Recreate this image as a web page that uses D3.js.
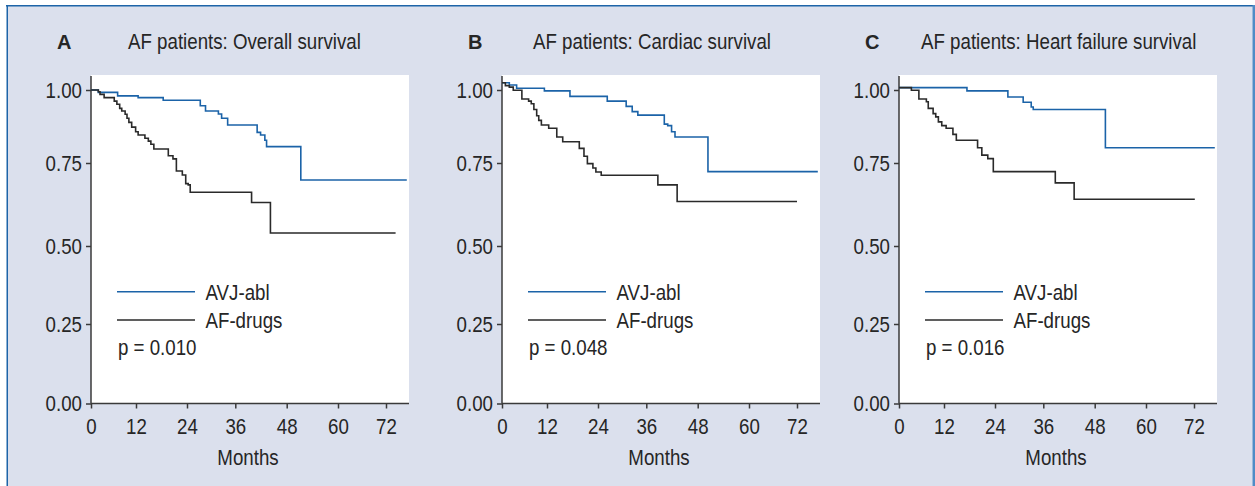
<!DOCTYPE html>
<html>
<head>
<meta charset="utf-8">
<script src="https://cdn.jsdelivr.net/npm/d3@7"></script>
<style>
    body { margin: 0; background: #fff; }
    text { font-family: "Liberation Sans", Arial, sans-serif; fill: #262626; }
</style>
</head>
<body>
<svg id="chart" width="1255" height="486"></svg>
<script>
const month_ticks = [0, 12, 24, 36, 48, 60, 72]
const surv_ticks = [0, 0.25, 0.5, 0.75, 1]
const panel_letters = ["A", "B", "C"]
const panel_titles = ["AF patients: Overall survival", "AF patients: Cardiac survival", "AF patients: Heart failure survival"]
const p_values = ["p = 0.010", "p = 0.048", "p = 0.016"]
const legend_labels = ["AVJ-abl", "AF-drugs"]

// step times (months) and survival from that time on
const a_abl_t = [0, 1.95, 7.1, 12.5, 18.4, 27.3, 28.6, 31.8, 32.6, 34.1, 41.1, 41.9, 42.9, 43.3, 51.3, 77.2]
const a_abl_s = [1.0, 0.992, 0.980, 0.974, 0.965, 0.946, 0.928, 0.918, 0.903, 0.880, 0.855, 0.846, 0.828, 0.806, 0.699, 0.699]
const a_drug_t = [0, 1.95, 2.4, 3.5, 6.2, 6.9, 7.65, 8.2, 9.1, 9.6, 10.1, 10.85, 11.9, 12.5, 14.1, 14.9, 15.5, 16.2, 19.6, 20.7, 21.5, 22.9, 23.7, 24.3, 24.8, 39.8, 44.2, 74.4]
const a_drug_s = [1.0, 0.994, 0.985, 0.974, 0.962, 0.951, 0.937, 0.928, 0.917, 0.903, 0.889, 0.873, 0.857, 0.846, 0.835, 0.825, 0.814, 0.798, 0.775, 0.764, 0.726, 0.714, 0.688, 0.684, 0.662, 0.631, 0.539, 0.539]

const b_abl_t = [0, 1.95, 3.9, 11.3, 17.4, 26.3, 31.0, 32.5, 33.9, 40.2, 41.0, 41.9, 42.7, 50.4, 77.2]
const b_abl_s = [1.025, 1.017, 1.006, 0.997, 0.978, 0.962, 0.944, 0.926, 0.914, 0.883, 0.878, 0.857, 0.839, 0.724, 0.724]
const b_drug_t = [0, 0.9, 1.95, 3.0, 5.3, 7.1, 7.8, 8.5, 9.25, 9.8, 10.5, 12.4, 14.3, 15.7, 19.6, 20.7, 21.5, 22.8, 23.5, 24.8, 38.7, 43.2, 72.0]
const b_drug_s = [1.025, 1.015, 1.010, 0.999, 0.969, 0.962, 0.953, 0.933, 0.912, 0.896, 0.880, 0.869, 0.839, 0.823, 0.800, 0.773, 0.748, 0.735, 0.723, 0.713, 0.684, 0.634, 0.634]

const c_abl_t = [0, 17.4, 27.2, 31.0, 33.0, 33.5, 50.5, 77.2]
const c_abl_s = [1.008, 0.997, 0.976, 0.958, 0.942, 0.933, 0.802, 0.802]
const c_drug_t = [0, 3.3, 5.3, 7.3, 7.8, 9.1, 9.8, 10.5, 11.4, 12.5, 14.1, 14.9, 19.9, 20.9, 22.3, 23.6, 38.8, 43.2, 72.2]
const c_drug_s = [1.008, 0.999, 0.969, 0.960, 0.937, 0.919, 0.908, 0.891, 0.878, 0.869, 0.848, 0.828, 0.802, 0.777, 0.765, 0.724, 0.690, 0.641, 0.641]

const curves = [
    [[a_abl_t, a_abl_s], [a_drug_t, a_drug_s]],
    [[b_abl_t, b_abl_s], [b_drug_t, b_drug_s]],
    [[c_abl_t, c_abl_s], [c_drug_t, c_drug_s]]
]

// layout
const panel_x = [91, 502, 899]
const title_dx = [37, 31, 22]
const plot_w = 318, plot_top = 75
const x_px = [0, 45, 96, 144.3, 195.7, 247, 295]       // tick spacing as in the scan
const y_px = [403.5, 324, 246, 163, 90]
const line_colors = ["#1b63a8", "#2a2a2a"]
const squeeze_k = 0.85

const svg = d3.select("#chart")

// frame
svg.append("rect")
    .attr("x", 7).attr("y", 5).attr("width", 1247).attr("height", 490)
    .attr("fill", "#dbe0ed")
svg.append("line").attr("x1", 6).attr("x2", 1254).attr("y1", 5.75).attr("y2", 5.75)
    .attr("stroke", "#1d64a8").attr("stroke-width", 1.5)
svg.append("line").attr("x1", 7.25).attr("x2", 7.25).attr("y1", 5).attr("y2", 486)
    .attr("stroke", "#1d64a8").attr("stroke-width", 1.5)
svg.append("line").attr("x1", 1253.8).attr("x2", 1253.8).attr("y1", 5).attr("y2", 486)
    .attr("stroke", "#4f8cc6").attr("stroke-width", 2.5)

function squeeze(sel) {
    sel.each(function () {
        const w = this.getComputedTextLength()
        d3.select(this).attr("textLength", w * squeeze_k).attr("lengthAdjust", "spacingAndGlyphs")
    })
}

for (let p = 0; p < 3; p++) {
    const x0 = panel_x[p]
    const x = d3.scaleLinear().domain(month_ticks).range(x_px.map(d => x0 + d))
    const y = d3.scaleLinear().domain(surv_ticks).range(y_px)
    const g = svg.append("g")

    g.append("rect")
        .attr("x", x0).attr("y", plot_top)
        .attr("width", plot_w).attr("height", y(0) - plot_top)
        .attr("fill", "#fff")

    // titles
    g.append("text")
        .attr("x", x0 - 34).attr("y", 49)
        .style("font-size", "20px").style("font-weight", "bold")
        .text(panel_letters[p])
    g.append("text")
        .attr("class", "sq")
        .attr("x", x0 + title_dx[p]).attr("y", 49)
        .style("font-size", "22px")
        .text(panel_titles[p])

    // axes
    const yAxis = g.append("g")
        .attr("transform", "translate(" + x0 + ",0)")
        .call(d3.axisLeft(y)
            .tickValues(surv_ticks)
            .tickFormat(d3.format(".2f"))
            .tickSizeInner(5)
            .tickSizeOuter(0)
            .tickPadding(4))
    const xAxis = g.append("g")
        .attr("transform", "translate(0," + y(0) + ")")
        .call(d3.axisBottom(x)
            .tickValues(month_ticks)
            .tickSizeInner(5)
            .tickSizeOuter(0)
            .tickPadding(10))
    g.selectAll(".domain").remove()
    g.selectAll(".tick line").attr("stroke", "#3a3a3a").attr("stroke-width", 1.5)
    g.selectAll(".tick text")
        .attr("class", "sq")
        .style("font-size", "22px")
        .style("font-family", null)
        .attr("fill", "#262626")
    g.append("line")
        .attr("x1", x0).attr("x2", x0).attr("y1", plot_top + 1).attr("y2", y(0))
        .attr("stroke", "#3a3a3a").attr("stroke-width", 1.5)
    g.append("line")
        .attr("x1", x0).attr("x2", x0 + plot_w).attr("y1", y(0)).attr("y2", y(0))
        .attr("stroke", "#3a3a3a").attr("stroke-width", 1.5)

    g.append("text")
        .attr("class", "sq")
        .attr("x", x0 + 157).attr("y", 465)
        .attr("text-anchor", "middle")
        .style("font-size", "22px")
        .text("Months")

    // curves
    for (let k = 0; k < 2; k++) {
        const [t, s] = curves[p][k]
        const pts = t.map((d, i) => [d, s[i]])
        g.append("path")
            .datum(pts)
            .attr("fill", "none")
            .attr("stroke", line_colors[k])
            .attr("stroke-width", 1.6)
            .attr("d", d3.line()
                .curve(d3.curveStepAfter)
                .x(d => x(d[0]))
                .y(d => y(d[1])))
    }

    // legend
    const leg_y = [291.7, 320]
    for (let k = 0; k < 2; k++) {
        g.append("line")
            .attr("x1", x0 + 26).attr("x2", x0 + 104)
            .attr("y1", leg_y[k]).attr("y2", leg_y[k])
            .attr("stroke", line_colors[k]).attr("stroke-width", 1.5)
        g.append("text")
            .attr("class", "sq")
            .attr("x", x0 + 114.5).attr("y", leg_y[k] + 8)
            .style("font-size", "22px")
            .text(legend_labels[k])
    }
    g.append("text")
        .attr("class", "sq")
        .attr("x", x0 + 27).attr("y", 355)
        .style("font-size", "22px")
        .text(p_values[p])
}

squeeze(svg.selectAll("text.sq"))
</script>
</body>
</html>
